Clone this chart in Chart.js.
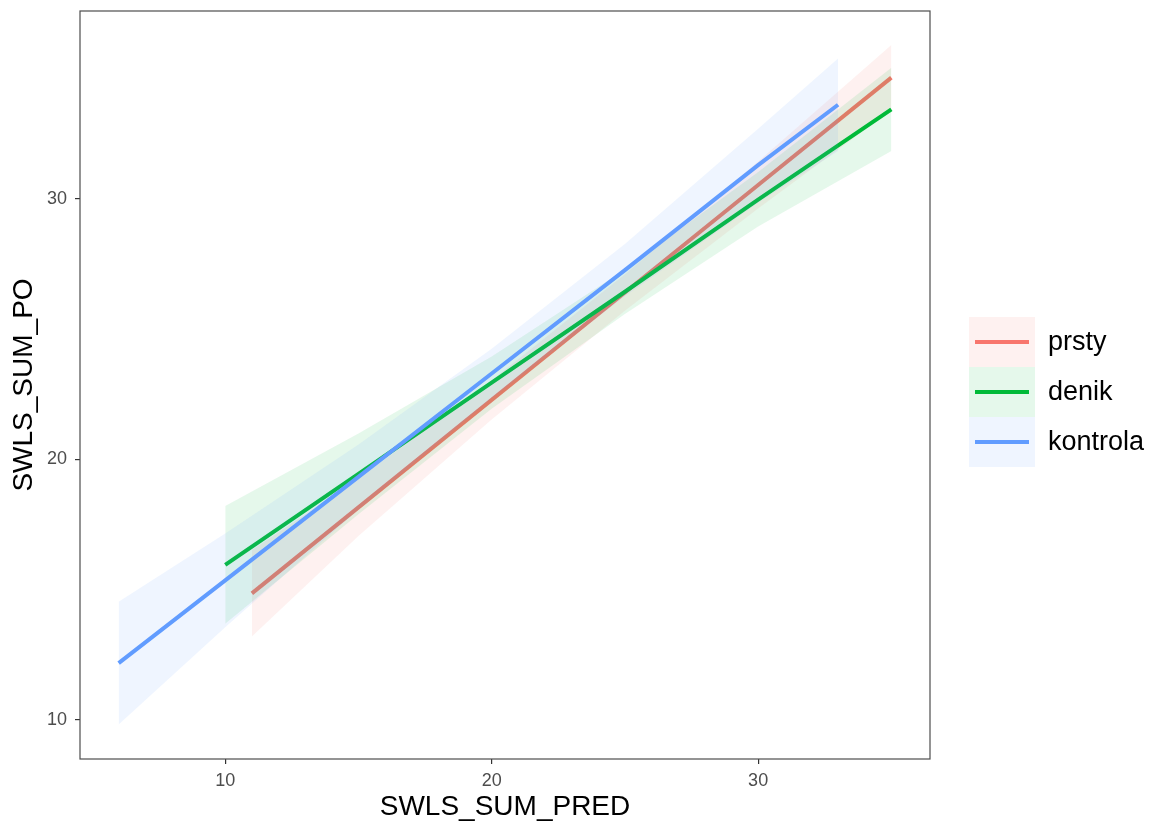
<!DOCTYPE html>
<html>
<head>
<meta charset="utf-8">
<script src="https://cdn.jsdelivr.net/npm/chart.js@4/dist/chart.umd.min.js"></script>
<style>
  body { margin: 0; background: #fff; }
  canvas { display: block; }
</style>
</head>
<body>
<canvas id="smoothChart" width="1151" height="825"></canvas>
<script>
// group names and colours (ggplot defaults)
const groups = ['prsty', 'denik', 'kontrola'];
const groupColors = ['#F8766D', '#00BA38', '#619CFF'];

// fitted lines and confidence bands
const prstyX     = [11, 15, 20, 25, 30, 35];
const prstyFit   = [14.86, 18.16, 22.29, 26.41, 30.54, 34.66];
const prstyLower = [13.20, 17.06, 21.54, 25.71, 29.64, 33.41];
const prstyUpper = [16.52, 19.26, 23.04, 27.11, 31.44, 35.91];

const denikX     = [10, 15, 20, 25, 30, 35];
const denikFit   = [15.95, 19.45, 22.95, 26.44, 29.98, 33.44];
const denikLower = [13.69, 17.90, 21.95, 25.59, 28.95, 31.84];
const denikUpper = [18.21, 21.00, 23.95, 27.29, 31.04, 35.04];

const kontrolaX     = [6, 10, 15, 20, 25, 30, 33];
const kontrolaFit   = [12.18, 15.36, 19.33, 23.30, 27.27, 31.30, 33.62];
const kontrolaLower = [9.82, 13.56, 18.08, 22.35, 26.27, 29.86, 31.84];
const kontrolaUpper = [14.54, 17.16, 20.58, 24.25, 28.27, 32.70, 35.40];

const xTicks = [10, 20, 30];
const yTicks = [10, 20, 30];

const FONT = '"Liberation Sans", Arial, sans-serif';

function pts(xs, ys) {
    return xs.map((x, i) => ({ x: x, y: ys[i] }));
}

function withAlpha(hex, a) {
    const r = parseInt(hex.slice(1, 3), 16);
    const g = parseInt(hex.slice(3, 5), 16);
    const b = parseInt(hex.slice(5, 7), 16);
    return `rgba(${r}, ${g}, ${b}, ${a})`;
}

const series = [
    { x: prstyX, fit: prstyFit, lo: prstyLower, hi: prstyUpper },
    { x: denikX, fit: denikFit, lo: denikLower, hi: denikUpper },
    { x: kontrolaX, fit: kontrolaFit, lo: kontrolaLower, hi: kontrolaUpper }
];

// ribbon then line for each group, later groups drawn on top
const datasets = [];
let order = series.length * 3;
series.forEach((s, i) => {
    datasets.push({
        label: groups[i] + ' lower',
        data: pts(s.x, s.lo),
        borderWidth: 0,
        pointRadius: 0,
        fill: false,
        order: order--
    });
    datasets.push({
        label: groups[i] + ' upper',
        data: pts(s.x, s.hi),
        borderWidth: 0,
        pointRadius: 0,
        backgroundColor: withAlpha(groupColors[i], 0.1),
        fill: '-1',
        order: order--
    });
    datasets.push({
        label: groups[i],
        data: pts(s.x, s.fit),
        borderColor: groupColors[i],
        borderWidth: 4,
        pointRadius: 0,
        fill: false,
        order: order--
    });
});

const panelBorder = {
    id: 'panelBorder',
    afterDatasetsDraw(chart) {
        const { ctx, chartArea: a } = chart;
        ctx.save();
        ctx.strokeStyle = '#4d4d4d';
        ctx.lineWidth = 1.2;
        ctx.strokeRect(a.left, a.top, a.right - a.left, a.bottom - a.top);
        ctx.restore();
    }
};

const ggLegend = {
    id: 'ggLegend',
    afterDraw(chart) {
        const ctx = chart.ctx;
        const left = 969, top = 317, keyW = 66, keyH = 50;
        ctx.save();
        groups.forEach((name, i) => {
            const y = top + i * keyH;
            ctx.fillStyle = withAlpha(groupColors[i], 0.1);
            ctx.fillRect(left, y, keyW, keyH);
            ctx.strokeStyle = groupColors[i];
            ctx.lineWidth = 4;
            ctx.beginPath();
            ctx.moveTo(left + 6, y + keyH / 2);
            ctx.lineTo(left + keyW - 6, y + keyH / 2);
            ctx.stroke();
            ctx.fillStyle = '#000';
            ctx.font = '27px ' + FONT;
            ctx.textBaseline = 'middle';
            ctx.fillText(name, 1048, y + keyH / 2 + 1);
        });
        ctx.restore();
    }
};

const ctx = document.getElementById('smoothChart').getContext('2d');
const chart = new Chart(ctx, {
    type: 'line',
    data: { datasets: datasets },
    options: {
        responsive: false,
        animation: false,
        layout: { padding: { top: 11, right: 221, left: 0, bottom: 0 } },
        plugins: {
            legend: { display: false },
            tooltip: { enabled: false }
        },
        elements: { line: { tension: 0 } },
        scales: {
            x: {
                type: 'linear',
                min: 4.55,
                max: 36.45,
                afterBuildTicks: scale => { scale.ticks = xTicks.map(v => ({ value: v })); },
                afterFit: scale => {
                    scale.height = 66;
                    scale.paddingLeft = 0;
                    scale.paddingRight = 0;
                },
                border: { display: false },
                grid: { drawOnChartArea: false, drawTicks: true, tickLength: 5, color: '#333', lineWidth: 1.2 },
                ticks: {
                    color: '#4d4d4d',
                    font: { family: FONT, size: 18 },
                    padding: 6,
                    maxRotation: 0
                },
                title: {
                    display: true,
                    text: 'SWLS_SUM_PRED',
                    color: '#000',
                    font: { family: FONT, size: 28 },
                    padding: { top: 4, bottom: 1 }
                }
            },
            y: {
                min: 8.5,
                max: 37.22,
                afterBuildTicks: scale => { scale.ticks = yTicks.map(v => ({ value: v })); },
                afterFit: scale => {
                    scale.width = 80;
                    scale.paddingTop = 0;
                    scale.paddingBottom = 0;
                },
                border: { display: false },
                grid: { drawOnChartArea: false, drawTicks: true, tickLength: 5, color: '#333', lineWidth: 1.2 },
                ticks: {
                    color: '#4d4d4d',
                    font: { family: FONT, size: 18 },
                    padding: 8
                },
                title: {
                    display: true,
                    text: 'SWLS_SUM_PO',
                    color: '#000',
                    font: { family: FONT, size: 28 },
                    padding: { top: 7, bottom: 0 }
                }
            }
        }
    },
    plugins: [panelBorder, ggLegend]
});
</script>
</body>
</html>
